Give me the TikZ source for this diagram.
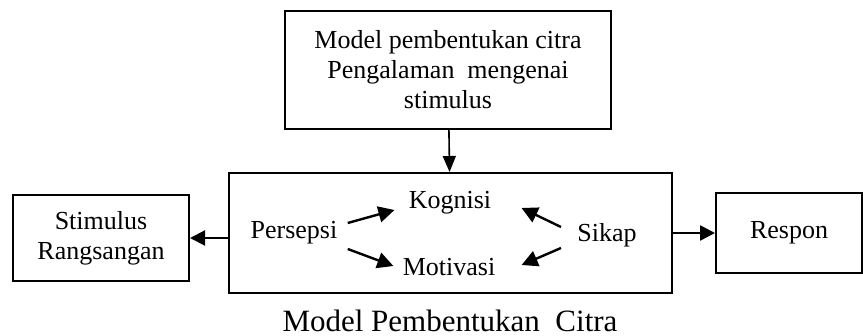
\documentclass[tikz,border=0pt]{standalone}
\usepackage{fontspec}
\setmainfont{Liberation Serif}
\usetikzlibrary{arrows.meta, positioning, calc}

\begin{document}
\begin{tikzpicture}[x=0.5pt, y=-0.5pt,
    box/.style={draw, line width=1pt, inner sep=0pt, align=center, font=\fontsize{13}{15}\selectfont},
    word/.style={inner sep=1pt, font=\fontsize{13}{15}\selectfont},
    inarrow/.style={-{Triangle[length=8pt, width=8pt]}, line width=1.2pt},
    sidearrow/.style={-{Triangle[length=7.5pt, width=7.5pt]}, line width=1pt}]
  \useasboundingbox (0,0) rectangle (863,336);

  % boxes
  \node[box, minimum width=163pt, minimum height=59pt] (model) at (448,70)
    {Model pembentukan citra\\Pengalaman\ \ mengenai\\stimulus};
  \node[box, minimum width=221.5pt, minimum height=60pt] (proses) at (450.5,233) {};
  \node[box, minimum width=88pt, minimum height=43pt] (stimulus) at (101,238)
    {Stimulus\\Rangsangan};
  \node[box, minimum width=73pt, minimum height=40pt] (respon) at (789,233) {Respon};

  % isi kotak tengah
  \node[word] (persepsi) at (294,233) {Persepsi};
  \node[word] (kognisi) at (450,203) {Kognisi};
  \node[word] (motivasi) at (449,267) {Motivasi};
  \node[word] (sikap) at (607,235) {Sikap};

  \draw[-{Triangle[length=8pt, width=6.5pt]}, line width=0.8pt] (model) -- (proses);
  \draw[sidearrow] (proses.west |- stimulus.east) -- (stimulus.east);
  \draw[sidearrow, line width=1.3pt] (proses.east |- respon.west) -- (respon.west);

  \draw[inarrow] ($(persepsi.east)+(8,-10)$) -- ($(kognisi.west)+(-12,7)$);
  \draw[inarrow] ($(persepsi.east)+(8,16)$) -- ($(motivasi.west)+(-7,-1)$);
  \draw[inarrow] ($(sikap.west)+(-14,-8)$) -- ($(kognisi.east)+(28,5)$);
  \draw[inarrow] ($(sikap.west)+(-14,13)$) -- ($(motivasi.east)+(24,-2)$);

  \node[font=\fontsize{15.5}{18}\selectfont] (judul) at (450,321) {Model Pembentukan\ \ Citra};
\end{tikzpicture}
\end{document}
